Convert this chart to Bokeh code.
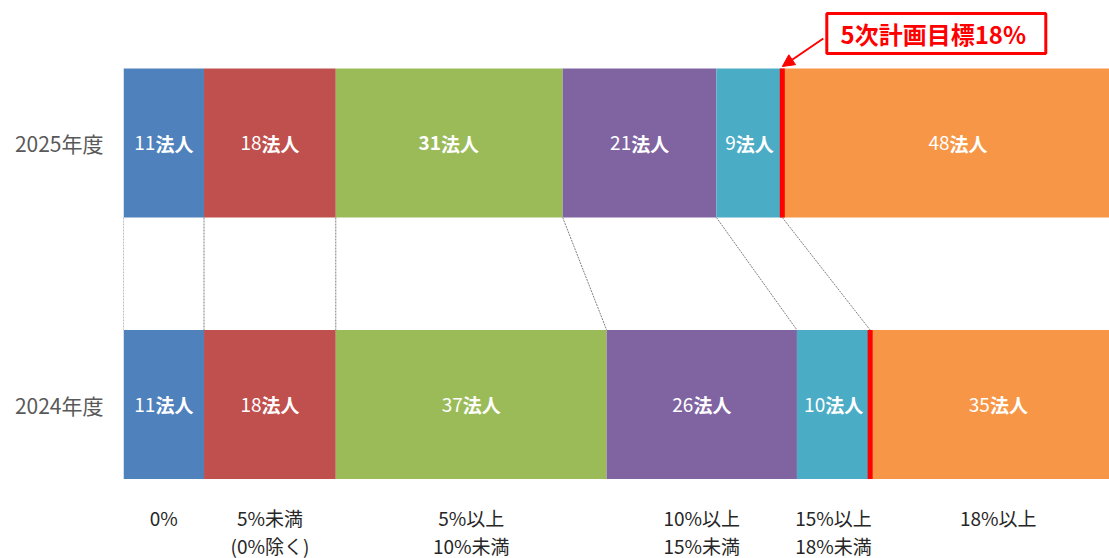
from bokeh.plotting import figure
from bokeh.models import Range1d, FixedTicker, Arrow, NormalHead, ColumnDataSource
from bokeh.core.properties import value
from bokeh.embed import file_html
from bokeh.resources import INLINE

# ---------------- data ----------------
years = ["2024年度", "2025年度"]
bins = ["0%", "5%未満\n(0%除く)", "5%以上\n10%未満", "10%以上\n15%未満", "15%以上\n18%未満", "18%以上"]
counts_2025 = [11, 18, 31, 21, 9, 48]
counts_2024 = [11, 18, 37, 26, 10, 35]
bold_digits_2025 = [False, False, True, False, False, False]
bold_digits_2024 = [False, False, False, False, False, False]
colors = ["#4F81BD", "#C0504D", "#9BBB59", "#8064A2", "#4BACC6", "#F79646"]
unit = "法人"
target_label = "5次計画目標18%"
target_bin = 5  # the target boundary lies before "18%以上"

# ---------------- layout ----------------
W, H = 1109, 558
LEFT = 123
X_END = 134.7
PXX = (W - LEFT) / X_END
# bar centres at canvas y 142.5 (2025) and 404 (2024)
PXY = 261.5
Y1 = 1 + 142.5 / PXY
Y0 = -(H - 404) / PXY
BAR_H = 0.57
FONT = "Noto Sans CJK JP"
LABEL_PX = 19
DIG_W = 0.56 * LABEL_PX
KAN_W = 1.0 * LABEL_PX

p = figure(width=W, height=H, output_backend="svg", toolbar_location=None,
           x_range=Range1d(0, X_END), y_range=Range1d(Y0, Y1),
           x_axis_location=None, min_border_left=LEFT, min_border_right=0,
           min_border_top=0, min_border_bottom=0)
p.grid.visible = False
p.outline_line_color = None
p.background_fill_color = "white"
p.border_fill_color = "white"

# y axis with year labels
ax = p.yaxis[0]
ax.ticker = FixedTicker(ticks=[0, 1])
ax.major_label_overrides = {0: years[0], 1: years[1]}
ax.axis_line_color = None
ax.major_tick_line_color = None
ax.minor_tick_line_color = None
ax.major_tick_out = 0
ax.major_tick_in = 0
ax.major_label_standoff = 20
ax.major_label_text_font = FONT
ax.major_label_text_font_size = "21px"
ax.major_label_text_color = "#595959"


def cumulative(vals):
    out = [0]
    for v in vals:
        out.append(out[-1] + v)
    return out


rows = [(1, counts_2025, bold_digits_2025), (0, counts_2024, bold_digits_2024)]
cums = {}
for yv, vals, bolds in rows:
    c = cumulative(vals)
    cums[yv] = c
    src = ColumnDataSource(dict(
        y=[yv] * len(vals), left=c[:-1], right=c[1:], color=colors,
        xc=[(a + b) / 2 for a, b in zip(c[:-1], c[1:])],
        digits=[str(v) for v in vals],
        suffix=[unit] * len(vals),
        off=[(len(str(v)) * DIG_W - 2 * KAN_W) / 2 for v in vals],
        style=["bold" if b else "normal" for b in bolds],
    ))
    p.hbar(y="y", left="left", right="right", height=BAR_H, fill_color="color",
           line_color=None, source=src)
    p.text(x="xc", y="y", text="digits", x_offset="off", text_align="right",
           text_baseline="middle", text_font=value(FONT),
           text_font_size=value(f"{LABEL_PX}px"), text_font_style="style",
           text_color="white", source=src)
    p.text(x="xc", y="y", text="suffix", x_offset="off", text_align="left",
           text_baseline="middle", text_font=value(FONT),
           text_font_size=value(f"{LABEL_PX}px"), text_font_style="bold",
           text_color="white", source=src)

# connector lines between the two bars
c25, c24 = cums[1], cums[0]
p.segment(x0=c25[:-1], y0=[1 - BAR_H / 2] * 6, x1=c24[:-1], y1=[BAR_H / 2] * 6,
          line_color="#7F7F7F", line_width=1, line_dash="2 1")

# target lines
p.segment(x0=[c25[target_bin], c24[target_bin]], x1=[c25[target_bin], c24[target_bin]],
          y0=[1 - BAR_H / 2, -BAR_H / 2], y1=[1 + BAR_H / 2, BAR_H / 2],
          line_color="#FF0000", line_width=5)

# category labels under the chart (centered on 2024 segments)
centers = [(a + b) / 2 for a, b in zip(c24[:-1], c24[1:])]
line1 = [b.split("\n")[0] for b in bins]
line2 = [b.split("\n")[1] if "\n" in b else "" for b in bins]
for txt, yy in ((line1, -(517 - 404) / PXY), (line2, -(545 - 404) / PXY)):
    p.text(x=centers, y=[yy] * len(centers), text=txt, text_align="center",
           text_baseline="middle", text_font=value(FONT), text_font_size=value("19px"),
           text_color="#262626")

# target callout
tx = c25[target_bin]
ttop = 1 + BAR_H / 2
bx = tx + 154 / PXX
by = ttop + 35 / PXY
p.rect(x=[bx], y=[by], width=219, height=40, width_units="screen", height_units="screen",
       fill_color="white", line_color="#FF0000", line_width=3)
p.text(x=[bx], y=[by], text=[target_label], x_offset=-3, text_align="center",
       text_baseline="middle", text_font=value(FONT), text_font_size=value("24px"),
       text_font_style="bold", text_color="#FF0000")
p.add_layout(Arrow(end=NormalHead(size=12, fill_color="#FF0000", line_color="#FF0000"),
                   x_start=tx + 41 / PXX, y_start=ttop + 30 / PXY,
                   x_end=tx, y_end=ttop + 2 / PXY,
                   line_color="#FF0000", line_width=2))

open("out.html", "w").write(file_html(p, INLINE))
